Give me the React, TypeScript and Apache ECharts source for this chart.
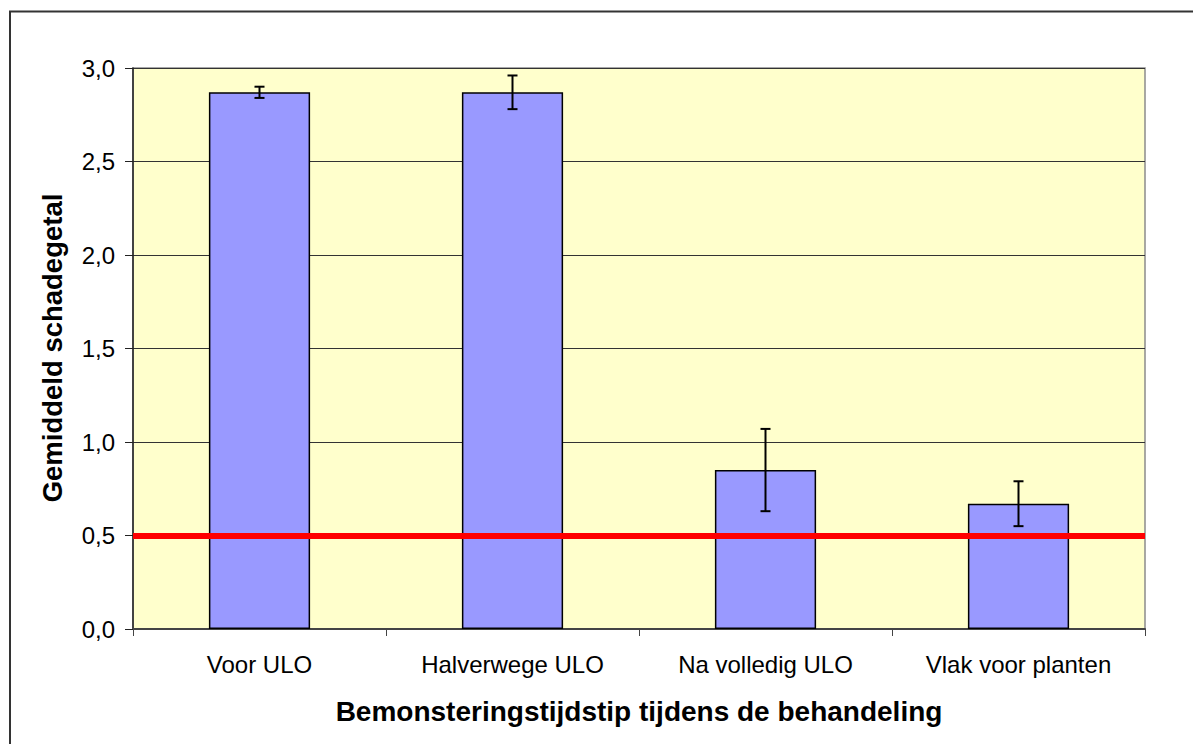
import React, { useEffect, useRef } from "react";
import * as echarts from "echarts";

const categories = ["Voor ULO", "Halverwege ULO", "Na volledig ULO", "Vlak voor planten"];
const means = [2.87, 2.87, 0.85, 0.67];
const errors = [0.03, 0.09, 0.22, 0.12];
const threshold = 0.5;
const yTicks = { min: 0, max: 3, interval: 0.5 };
const xTitle = "Bemonsteringstijdstip tijdens de behandeling";
const yTitle = "Gemiddeld schadegetal";

const FONT = "'Liberation Sans', Arial, sans-serif";

export default function App() {
  const ref = useRef<HTMLDivElement>(null);
  useEffect(() => {
    document.body.style.margin = "0";
    const chart = echarts.init(ref.current!, null, { renderer: "svg" });
    const errData = means.map((m, i) => [i, m - errors[i], m + errors[i]]);
    chart.setOption({
      animation: false,
      backgroundColor: "#ffffff",
      textStyle: { fontFamily: FONT },
      grid: {
        left: 133,
        top: 68,
        right: 48,
        bottom: 115,
        show: true,
        backgroundColor: "#FFFFCC",
        borderColor: "#8c8c8c",
        borderWidth: 1.5,
      },
      xAxis: {
        type: "category",
        data: categories,
        boundaryGap: true,
        axisLine: { lineStyle: { color: "#444", width: 2 } },
        axisTick: { show: true, alignWithLabel: false, length: 7, lineStyle: { color: "#444", width: 1 } },
        axisLabel: { color: "#000", fontSize: 24, fontFamily: FONT, margin: 23 },
      },
      yAxis: {
        type: "value",
        min: yTicks.min,
        max: yTicks.max,
        interval: yTicks.interval,
        axisLine: { show: true, lineStyle: { color: "#222", width: 1.5 } },
        axisTick: { show: true, length: 8, lineStyle: { color: "#222", width: 1 } },
        axisLabel: {
          color: "#000",
          fontSize: 24,
          fontFamily: FONT,
          margin: 18,
          formatter: (v: number) => v.toFixed(1).replace(".", ","),
        },
        splitLine: { show: true, lineStyle: { color: "#333", width: 1 } },
      },
      graphic: [
        {
          type: "rect",
          shape: { x: 10, y: 11.5, width: 1400, height: 900 },
          style: { fill: "none", stroke: "#333", lineWidth: 2 },
          silent: true,
        },
        {
          type: "text",
          x: 52,
          y: 348,
          rotation: Math.PI / 2,
          style: {
            text: yTitle,
            fontSize: 27.5,
            fontWeight: "bold",
            fontFamily: FONT,
            fill: "#000",
            align: "center",
            verticalAlign: "middle",
          },
        },
        {
          type: "text",
          x: 639,
          y: 711,
          style: {
            text: xTitle,
            fontSize: 28,
            fontWeight: "bold",
            fontFamily: FONT,
            fill: "#000",
            align: "center",
            verticalAlign: "middle",
          },
        },
      ],
      series: [
        {
          type: "bar",
          data: means,
          barWidth: "40%",
          itemStyle: { color: "#9999FF", borderColor: "#000", borderWidth: 1.5 },
          markLine: {
            silent: true,
            symbol: "none",
            label: { show: false },
            lineStyle: { color: "#FF0000", width: 6, type: "solid" },
            data: [{ yAxis: threshold }],
            z: 5,
          },
        },
        {
          type: "custom",
          data: errData,
          z: 10,
          renderItem: (params: any, api: any) => {
            const x = api.value(0);
            const lo = api.coord([x, api.value(1)]);
            const hi = api.coord([x, api.value(2)]);
            const cap = 5;
            const style = { stroke: "#000", lineWidth: 2 };
            return {
              type: "group",
              children: [
                { type: "line", shape: { x1: lo[0], y1: lo[1], x2: hi[0], y2: hi[1] }, style },
                { type: "line", shape: { x1: lo[0] - cap, y1: lo[1], x2: lo[0] + cap, y2: lo[1] }, style },
                { type: "line", shape: { x1: hi[0] - cap, y1: hi[1], x2: hi[0] + cap, y2: hi[1] }, style },
              ],
            };
          },
        },
      ],
    });
    return () => chart.dispose();
  }, []);
  return <div ref={ref} style={{ width: 1193, height: 744 }} />;
}
